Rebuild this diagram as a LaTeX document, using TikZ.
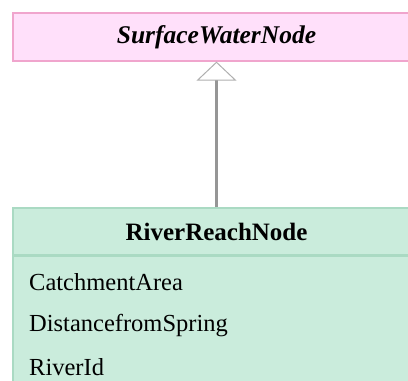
\documentclass[tikz,border=0pt]{standalone}
\usepackage{fontspec}
\setmainfont{Liberation Serif}
\usetikzlibrary{positioning, arrows.meta}
\definecolor{swpink}{RGB}{255, 224, 250}
\definecolor{swpinkline}{RGB}{240, 165, 205}
\definecolor{rrgreen}{RGB}{202, 236, 220}
\definecolor{rrgreenline}{RGB}{170, 218, 195}
\definecolor{genline}{RGB}{150, 150, 150}
\definecolor{genhead}{RGB}{175, 175, 175}

\begin{document}
\begin{tikzpicture}[x=1pt, y=1pt,
    classbox/.style={draw, line width=1.2pt, minimum width=407pt, inner sep=0pt},
    attr/.style={anchor=west, inner sep=0pt, font=\fontsize{24.5}{28}\selectfont}]
  \useasboundingbox (0,0) rectangle (408,381);
  \node[classbox, fill=swpink, draw=swpinkline, minimum height=48pt,
        font=\fontsize{25.5}{29}\selectfont\bfseries\itshape] (surface)
        at (216.5,344) {SurfaceWaterNode};
  \node[classbox, fill=rrgreen, draw=rrgreenline, minimum height=47pt,
        font=\fontsize{25}{29}\selectfont\bfseries] (river)
        at (216.5,149.5) {RiverReachNode};
  \node[classbox, fill=rrgreen, draw=rrgreenline, minimum height=140pt,
        below=0pt of river] (attrs) {};
  \node[attr] (a1) at (29,99) {CatchmentArea};
  \node[attr] (a2) at (29,55) {DistancefromSpring};
  \node[attr] (a3) at (29,14) {RiverId};

  \draw[-{Triangle[open, width=40pt, length=19pt, line width=1pt, color=genhead]},
        line width=3pt, genline] (river) -- (surface);
\end{tikzpicture}
\end{document}
